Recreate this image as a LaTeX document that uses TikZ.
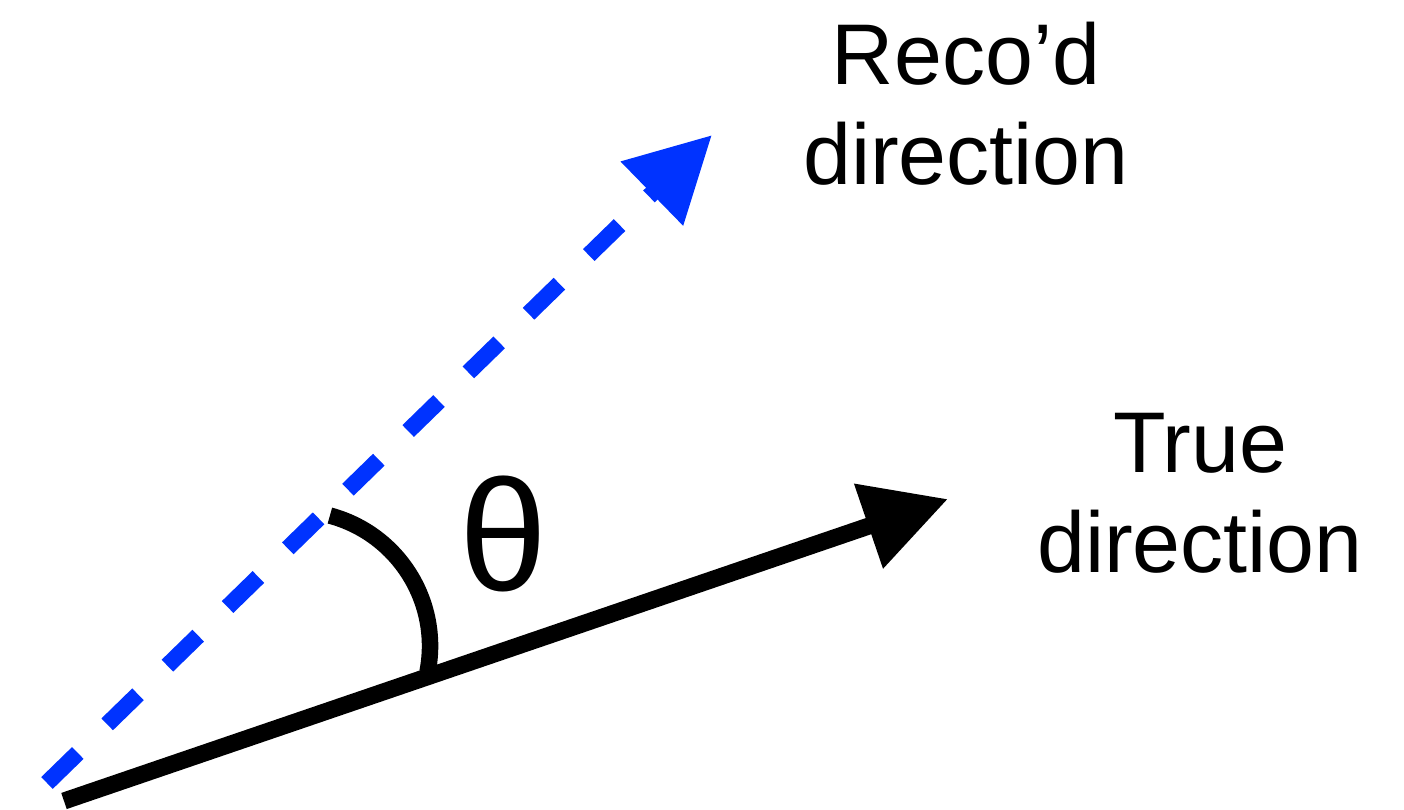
\documentclass[tikz,border=0pt]{standalone}
\usepackage{fontspec}
\setmainfont{Liberation Sans}
\usetikzlibrary{arrows.meta}
\definecolor{recoblue}{RGB}{0,51,255}
\begin{document}
\begin{tikzpicture}[x=0.01cm,y=0.01cm,
  vec/.style={line width=0.17cm, -{Triangle[length=0.84cm,width=0.85cm]}},
  lbl/.style={font=\fontsize{24.5}{28.45}\selectfont, align=center, inner sep=0pt},
]
\useasboundingbox (0,0) rectangle (1404,810);
\coordinate (o1) at (64,9);
\coordinate (t1) at (948,311);
\coordinate (o2) at (47,27);
\coordinate (t2) at (712,675);
\draw[vec] (o1) -- (t1);
\draw[vec, recoblue, line width=0.165cm, dash pattern=on 0.43cm off 0.41cm] (o2) -- (t2);
\coordinate (a0) at (329.9,294.4);
\draw[line width=0.165cm] (a0) arc[start angle=75, end angle=-11, radius=1.35cm];
\node[lbl, anchor=base] (reco) at (966,625) {Reco’d\\direction};
\node[lbl, anchor=base] (true) at (1200,237) {True\\direction};
\node[font=\fontsize{45}{54}\selectfont, inner sep=0pt] (theta) at (503,276) {θ};
\end{tikzpicture}
\end{document}
